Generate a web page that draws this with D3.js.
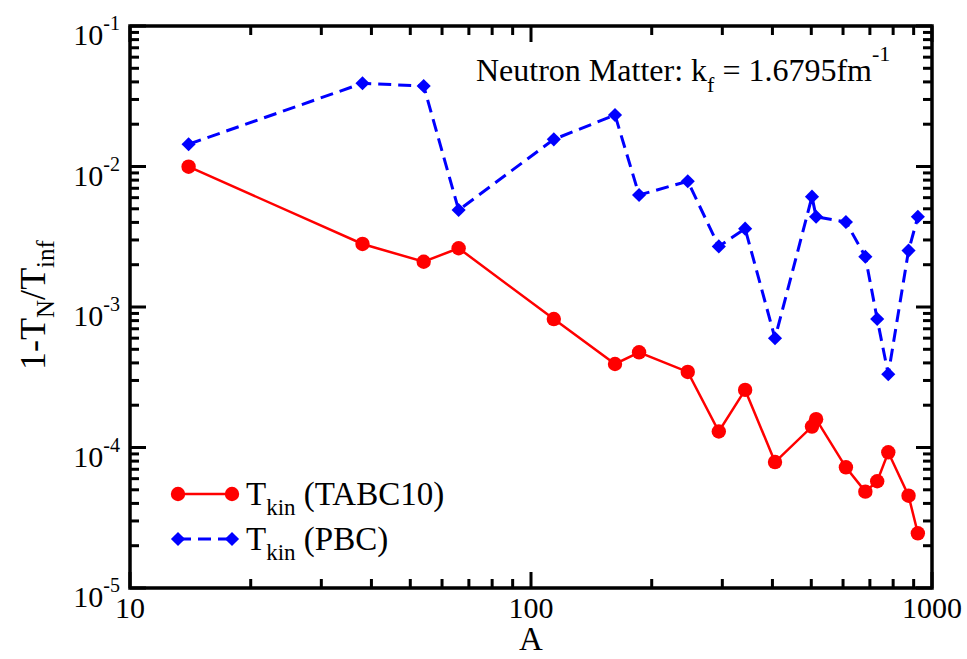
<!DOCTYPE html>
<html>
<head>
<meta charset="utf-8">
<script src="https://cdn.jsdelivr.net/npm/d3@7"></script>
<style>
  body { margin: 0; background: #fff; }
  svg text { font-family: "Liberation Serif", "Times New Roman", serif; fill: #000; }
</style>
</head>
<body>
<svg id="chart"></svg>
<script>
// shell closures for neutron matter in a periodic box
const particleNumbers = [14, 38, 54, 66, 114, 162, 186, 246, 294, 342, 406, 502, 514, 610, 682, 730, 778, 874, 922];
const tabcValues = [0.00997, 0.00281, 0.0021, 0.00262, 0.000821, 0.000393, 0.000476, 0.000345,
  0.000130, 0.000257, 0.0000788, 0.000141, 0.000159, 0.0000723, 0.0000485, 0.0000575, 0.0000924, 0.0000454, 0.0000245];
const pbcValues = [0.0144, 0.0391, 0.0374, 0.0049, 0.0156, 0.02325, 0.00627, 0.00785,
  0.0027, 0.00361, 0.000599, 0.0061, 0.00439, 0.00403, 0.00228, 0.000821, 0.000332, 0.00252, 0.00439];
const xTickLabels = ['10', '100', '1000'];
const yExponents = [-1, -2, -3, -4, -5];

const W = 967, H = 659;
const margin = {left: 130, right: 35, top: 26, bottom: 71};
const pw = W - margin.left - margin.right;
const ph = H - margin.top - margin.bottom;

const svg = d3.select('#chart').attr('width', W).attr('height', H);
const g = svg.append('g').attr('transform', `translate(${margin.left},${margin.top})`);

const x = d3.scaleLog().domain([10, 1000]).range([0, pw]);
const y = d3.scaleLog().domain([1e-5, 1e-1]).range([ph, 0]);

const xMajor = [10, 100, 1000];
const xMinor = [];
[10, 100].forEach(d => { for (let k = 2; k <= 9; k++) xMinor.push(d * k); });
const yMajor = yExponents.map(e => Math.pow(10, e));
const yMinor = [];
[1e-5, 1e-4, 1e-3, 1e-2].forEach(d => { for (let k = 2; k <= 9; k++) yMinor.push(d * k); });

// inward ticks on all four sides, as filled bars
const tickW = 3;
const xt = [];
xMajor.forEach(v => { xt.push({v, len: 16, top: false}, {v, len: 16, top: true}); });
xMinor.forEach(v => { xt.push({v, len: 9, top: false}, {v, len: 9, top: true}); });
const yt = [];
yMajor.forEach(v => { yt.push({v, len: 16, right: false}, {v, len: 16, right: true}); });
yMinor.forEach(v => { yt.push({v, len: 9, right: false}, {v, len: 9, right: true}); });

g.append('g').selectAll('rect').data(xt).join('rect')
  .attr('x', d => x(d.v) - tickW / 2).attr('width', tickW)
  .attr('y', d => d.top ? 0 : ph - d.len).attr('height', d => d.len)
  .attr('fill', '#000');
g.append('g').selectAll('rect').data(yt).join('rect')
  .attr('y', d => y(d.v) - tickW / 2).attr('height', tickW)
  .attr('x', d => d.right ? pw - d.len : 0).attr('width', d => d.len)
  .attr('fill', '#000');

// frame
g.append('path')
  .attr('d', `M0,0H${pw}V${ph}H0Z`)
  .attr('fill', 'none').attr('stroke', '#000').attr('stroke-width', 3.5);

// tick labels
g.selectAll('.xl').data(xMajor).join('text')
  .attr('x', d => x(d)).attr('y', ph + 30)
  .attr('text-anchor', 'middle').attr('font-size', 30)
  .text((d, i) => xTickLabels[i]);

const yl = g.selectAll('.yl').data(yMajor).join('text')
  .attr('x', -10).attr('y', d => y(d) + 19)
  .attr('text-anchor', 'end').attr('font-size', 30);
yl.append('tspan').text('10');
yl.append('tspan').attr('dy', -15).attr('font-size', 20).text((d, i) => yExponents[i]);

// axis titles
g.append('text').attr('x', x(100)).attr('y', ph + 62)
  .attr('text-anchor', 'middle').attr('font-size', 33).text('A');

const ylab = g.append('text')
  .attr('transform', `translate(${45 - margin.left},${305 - margin.top}) rotate(-90)`)
  .attr('text-anchor', 'middle').attr('font-size', 36);
ylab.append('tspan').text('1-T');
ylab.append('tspan').attr('dy', 9).attr('font-size', 25).text('N');
ylab.append('tspan').attr('dy', -9).text('/T');
ylab.append('tspan').attr('dy', 9).attr('font-size', 25).text('inf');

// series
const line = d3.line().x(d => x(d[0])).y(d => y(d[1]));
const tabc = particleNumbers.map((a, i) => [a, tabcValues[i]]);
const pbc = particleNumbers.map((a, i) => [a, pbcValues[i]]);
const diamond = d3.symbol().type(d3.symbolSquare).size(100);

g.append('path').datum(pbc).attr('d', line)
  .attr('fill', 'none').attr('stroke', '#0000ff').attr('stroke-width', 3)
  .attr('stroke-dasharray', '13,7');
g.selectAll('.pbc').data(pbc).join('path')
  .attr('transform', d => `translate(${x(d[0])},${y(d[1])}) rotate(45)`)
  .attr('d', diamond).attr('fill', '#0000ff');

g.append('path').datum(tabc).attr('d', line)
  .attr('fill', 'none').attr('stroke', '#ff0000').attr('stroke-width', 2.5);
g.selectAll('.tabc').data(tabc).join('circle')
  .attr('cx', d => x(d[0])).attr('cy', d => y(d[1])).attr('r', 7.2)
  .attr('fill', '#ff0000');

// legend
const leg = svg.append('g');
function legendRow(yy, color, dash, marker, label) {
  leg.append('line').attr('x1', 178).attr('x2', 232).attr('y1', yy).attr('y2', yy)
    .attr('stroke', color).attr('stroke-width', marker === 'c' ? 2.5 : 3)
    .attr('stroke-dasharray', dash);
  [178, 232].forEach(cx => {
    if (marker === 'c') leg.append('circle').attr('cx', cx).attr('cy', yy).attr('r', 7.2).attr('fill', color);
    else leg.append('path').attr('transform', `translate(${cx},${yy}) rotate(45)`).attr('d', diamond).attr('fill', color);
  });
  const t = leg.append('text').attr('x', 246).attr('y', yy + 11).attr('font-size', 33);
  t.append('tspan').text('T');
  t.append('tspan').attr('dy', 10).attr('font-size', 23).text('kin');
  t.append('tspan').attr('dy', -10).text(' ' + label);
}
legendRow(494, '#ff0000', null, 'c', '(TABC10)');
legendRow(539, '#0000ff', '13,7', 'd', '(PBC)');

// annotation
const ann = svg.append('text').attr('x', 476).attr('y', 81).attr('font-size', 32);
ann.append('tspan').text('Neutron Matter: k');
ann.append('tspan').attr('dy', 11).attr('font-size', 22).text('f');
ann.append('tspan').attr('dy', -11).text(' = 1.6795fm');
ann.append('tspan').attr('dy', -20).attr('font-size', 22).text('-1');
</script>
</body>
</html>
